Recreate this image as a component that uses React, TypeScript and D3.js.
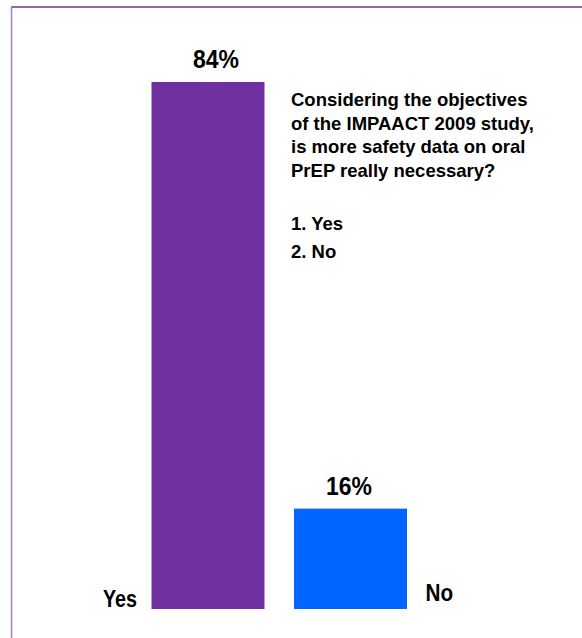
import React from "react";
import * as d3 from "d3";

const categories = ["Yes", "No"];
const values = [84, 16];
const valueLabels = ["84%", "16%"];
const colors = ["#7030A0", "#0066FF"];
const questionLines = [
  "Considering the objectives",
  "of the IMPAACT 2009 study,",
  "is more safety data on oral",
  "PrEP really necessary?",
];
const options = ["1. Yes", "2. No"];

const W = 582;
const H = 638;
const FONT = "'Liberation Sans', Arial, sans-serif";
const labelDx = [8, -1.5];

export default function App() {
  const x = d3.scaleBand<string>().domain(categories).range([151.5, 407]).paddingInner(0.207).paddingOuter(0);
  const y = d3.scaleLinear().domain([0, 100]).range([609, 609 - 627.4]);
  const bw = x.bandwidth();

  return (
    <svg width={W} height={H} style={{ position: "absolute", left: 0, top: 0, background: "#fff" }} fontFamily={FONT}>
      <rect x={0} y={0} width={W} height={H} fill="#fff" />
      <line x1={11} y1={7} x2={W} y2={7} stroke="#7030A0" strokeWidth={1.5} />
      <line x1={11.5} y1={7} x2={11.5} y2={H} stroke="#a27fd6" strokeWidth={1.5} />
      {categories.map((c, i) => {
        const x0 = x(c) as number;
        const top = y(values[i]);
        return (
          <g key={c}>
            <rect x={x0} y={top} width={bw} height={y(0) - top} fill={colors[i]} />
            <text
              x={x0 + bw / 2 + labelDx[i] - 23}
              y={top - 13.5}
              fontSize={26.5}
              fontWeight="bold"
              textLength={46}
              lengthAdjust="spacingAndGlyphs"
              fill="#000"
            >
              {valueLabels[i]}
            </text>
          </g>
        );
      })}
      <text
        x={(x("Yes") as number) - 14.5 - 34}
        y={607}
        fontSize={23.5}
        fontWeight="bold"
        textLength={34}
        lengthAdjust="spacingAndGlyphs"
      >
        {categories[0]}
      </text>
      <text
        x={(x("No") as number) + bw + 18.6}
        y={601}
        fontSize={23.5}
        fontWeight="bold"
        textLength={27.6}
        lengthAdjust="spacingAndGlyphs"
      >
        {categories[1]}
      </text>
      {questionLines.map((l, i) => (
        <text key={i} x={291} y={106 + i * 23.5} fontSize={18.5} fontWeight="bold">
          {l}
        </text>
      ))}
      {options.map((l, i) => (
        <text key={l} x={291} y={230 + i * 28} fontSize={18.5} fontWeight="bold">
          {l}
        </text>
      ))}
    </svg>
  );
}
